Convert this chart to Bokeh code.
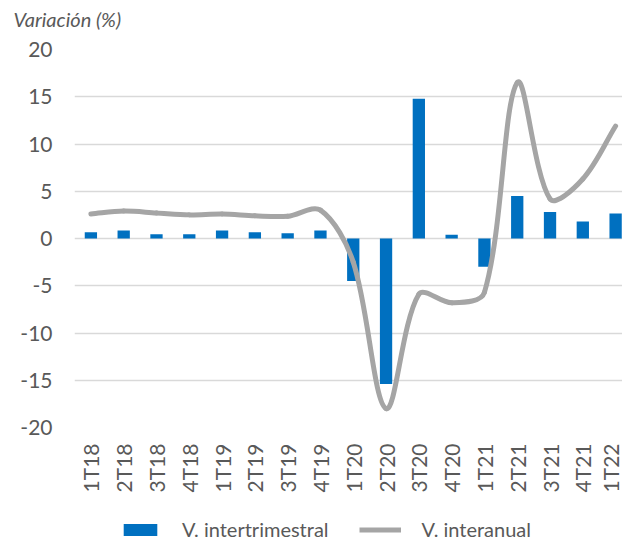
import numpy as np
from bokeh.plotting import figure
from bokeh.layouts import column
from bokeh.models import (Range1d, FixedTicker, Legend, LegendItem, Title, ColumnDataSource)
from bokeh.embed import file_html
from bokeh.resources import INLINE

# ---- data ----
quarters = ["1T18", "2T18", "3T18", "4T18", "1T19", "2T19", "3T19", "4T19",
            "1T20", "2T20", "3T20", "4T20", "1T21", "2T21", "3T21", "4T21", "1T22"]
v_intertrimestral = [0.65, 0.85, 0.45, 0.45, 0.85, 0.65, 0.55, 0.85,
                     -4.5, -15.4, 14.8, 0.4, -3.0, 4.5, 2.8, 1.8, 2.65]
v_interanual = [2.6, 2.9, 2.7, 2.5, 2.6, 2.4, 2.35, 3.0,
                -2.5, -18.0, -5.9, -6.8, -5.7, 16.5, 4.2, 6.3, 11.9]
y_ticks = [-20, -15, -10, -5, 0, 5, 10, 15, 20]
y_tick_labels = ["-20", "-15", "-10", "-5", "0", "5", "10", "15", "20"]
series_names = ["V. intertrimestral", "V. interanual"]
title_text = "Variación (%)"

FONT = "Lato"
TXT = "#595959"
BLUE = "#0070C0"
GREY = "#A5A5A5"

W = 622
H_HEAD, H_PLOT, H_LEG = 32, 468, 40
LEFT, TOP, BOTTOM = 74, 17, 73
X_END = 16.21


def blank(height, **kw):
    f = figure(width=W, height=height, output_backend="svg", toolbar_location=None,
               x_range=Range1d(100, 101), y_range=Range1d(100, 101),
               x_axis_type=None, y_axis_type=None, min_border_left=0,
               min_border_right=0, **kw)
    f.outline_line_color = None
    f.xgrid.grid_line_color = None
    f.ygrid.grid_line_color = None
    return f


# ---- header with the title ----
head = blank(H_HEAD, min_border_top=30, min_border_bottom=0)
head.add_layout(Title(text=title_text, text_font=FONT, text_font_style="italic",
                      text_font_size="20px", text_color=TXT, align="left",
                      offset=-61, standoff=0), "above")

# ---- main plot ----
p = figure(width=W, height=H_PLOT, output_backend="svg", toolbar_location=None,
           x_range=Range1d(-0.5, X_END), y_range=Range1d(-20, 20),
           min_border_left=LEFT, min_border_right=0, min_border_top=TOP,
           min_border_bottom=BOTTOM)
p.outline_line_color = None
p.background_fill_color = "white"
p.border_fill_color = "white"

xs = list(range(len(quarters)))

src = ColumnDataSource(dict(x=xs, top=v_intertrimestral))
p.vbar(x="x", top="top", bottom=0, width=0.375, source=src,
       fill_color=BLUE, line_color=None)

# smoothed line (Excel-like Bezier smoothing, computed in screen space)
frame_w = W - LEFT
sx = frame_w / (X_END + 0.5)              # px per category
sy = (H_PLOT - TOP - BOTTOM) / 40.0       # px per unit
P = np.array([[x * sx, y * sy] for x, y in zip(xs, v_interanual)])
n = len(P)
x0, y0, x1, y1, cx0, cy0, cx1, cy1 = ([] for _ in range(8))
for i in range(n - 1):
    pm = P[i - 1] if i > 0 else P[i]
    p0 = P[i]
    p1 = P[i + 1]
    p2 = P[i + 2] if i + 2 < n else P[i + 1]
    d01 = np.linalg.norm(p0 - pm)
    d12 = np.linalg.norm(p1 - p0)
    d23 = np.linalg.norm(p2 - p1)
    f1 = d12 / (3 * (d01 + d12)) if (d01 + d12) > 0 else 0
    f2 = d12 / (3 * (d12 + d23)) if (d12 + d23) > 0 else 0
    c1 = p0 + (p1 - pm) * f1
    c2 = p1 - (p2 - p0) * f2
    x0.append(p0[0] / sx); y0.append(p0[1] / sy)
    x1.append(p1[0] / sx); y1.append(p1[1] / sy)
    cx0.append(c1[0] / sx); cy0.append(c1[1] / sy)
    cx1.append(c2[0] / sx); cy1.append(c2[1] / sy)

p.bezier(x0=x0, y0=y0, x1=x1, y1=y1, cx0=cx0, cy0=cy0, cx1=cx1, cy1=cy1,
         line_color=GREY, line_width=5, line_cap="round")

p.xaxis.ticker = FixedTicker(ticks=xs)
p.xaxis.major_label_overrides = {i: q for i, q in enumerate(quarters)}
p.xaxis.major_label_orientation = np.pi / 2
p.yaxis.ticker = FixedTicker(ticks=y_ticks)
p.yaxis.major_label_overrides = {t: s for t, s in zip(y_ticks, y_tick_labels)}
for ax in (p.xaxis[0], p.yaxis[0]):
    ax.axis_line_color = None
    ax.major_tick_line_color = None
    ax.minor_tick_line_color = None
    ax.major_tick_out = 0
    ax.major_tick_in = 0
    ax.major_label_text_font = FONT
    ax.major_label_text_font_size = "21px"
    ax.major_label_text_color = TXT
p.yaxis.major_label_standoff = 22
p.xaxis.major_label_standoff = 16

p.xgrid.grid_line_color = None
p.ygrid.ticker = FixedTicker(ticks=y_ticks)
p.ygrid.grid_line_color = "#D9D9D9"
p.ygrid.grid_line_width = 1.5

# ---- legend strip ----
q = blank(H_LEG, min_border_top=0, min_border_bottom=0)
leg_bar = q.vbar(x=xs, top=v_intertrimestral, width=0.375,
                 fill_color=BLUE, line_color=None)
leg_line = q.line(x=xs, y=v_interanual, line_color=GREY, line_width=5)
legend = Legend(items=[LegendItem(label=series_names[0], renderers=[leg_bar]),
                       LegendItem(label=series_names[1], renderers=[leg_line])],
                orientation="horizontal", location=(45, -1),
                label_text_font=FONT, label_text_font_size="20px",
                label_text_color=TXT, glyph_width=42, glyph_height=15,
                label_standoff=21, spacing=30, padding=0, margin=0,
                border_line_color=None, background_fill_alpha=0)
q.add_layout(legend, "center")

open("out.html", "w").write(file_html(column(head, p, q, spacing=0), INLINE))
